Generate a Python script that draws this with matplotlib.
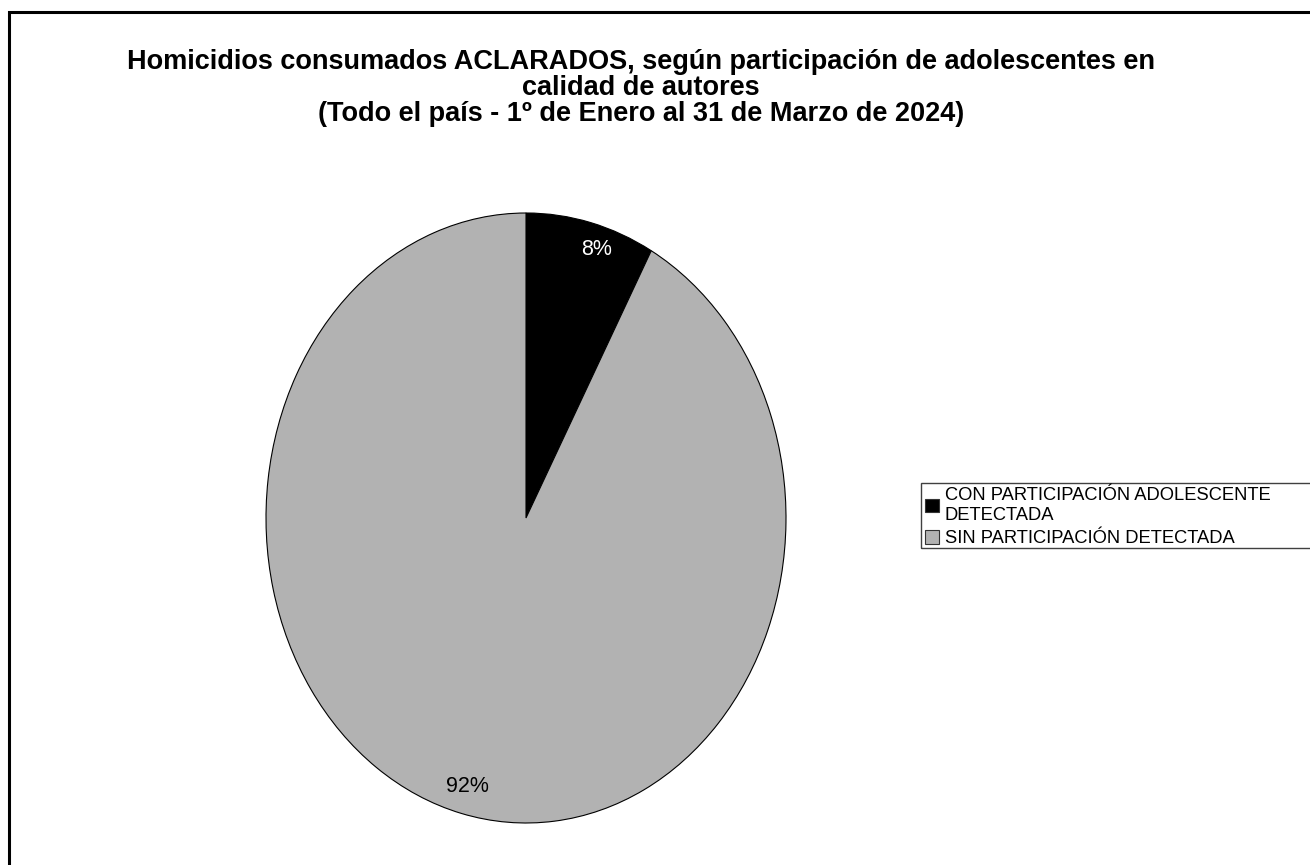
import matplotlib
matplotlib.use("Agg")
import matplotlib.pyplot as plt
from matplotlib.patches import Rectangle, Patch

plt.rcParams['font.family'] = ['Liberation Sans', 'DejaVu Sans']

labels = ['CON PARTICIPACIÓN ADOLESCENTE\nDETECTADA', 'SIN PARTICIPACIÓN DETECTADA']
values = [8, 92]
colors = ['#000000', '#b2b2b2']
pct_colors = ['white', 'black']

title = ('Homicidios consumados ACLARADOS, según participación de adolescentes en\n'
         'calidad de autores\n'
         '(Todo el país - 1º de Enero al 31 de Marzo de 2024)')

W, H = 1310, 865
fig = plt.figure(figsize=(W / 100, H / 100), dpi=100)

# outer frame (cut off at right and bottom like the original)
fig.patches.append(Rectangle((9 / W, -0.05), 1.1, 1 - 12 / H + 0.05, transform=fig.transFigure,
                             fill=False, edgecolor='black', linewidth=2.2))

fig.text(641 / W, 1 - 49 / H, title, ha='center', va='top', fontsize=19.5,
         fontweight='bold', linespacing=1.0)

# pie drawn as an ellipse: axes box matches pie bounds
ax = fig.add_axes([266 / W, 1 - 823 / H, 520 / W, 610 / H])
wedges, texts, autotexts = ax.pie(values, colors=colors, startangle=90, counterclock=False,
                                  autopct='%1.0f%%', pctdistance=0.91, radius=1,
                                  wedgeprops=dict(edgecolor='black', linewidth=0.8),
                                  textprops=dict(fontsize=15.5))
for t, c in zip(autotexts, pct_colors):
    t.set_color(c)
# the small label sits a bit further right in the original
x0, y0 = autotexts[0].get_position()
autotexts[0].set_position((x0 + 0.045, y0))
ax.set_aspect('auto')
ax.set_xlim(-1, 1)
ax.set_ylim(-1, 1)
ax.axis('off')

# legend
handles = [Patch(facecolor=c, edgecolor='#333333', linewidth=0.8) for c in colors]
leg = fig.legend(handles, labels, loc='upper left', bbox_to_anchor=(918 / W, 1 - 480 / H),
                 frameon=False, fontsize=13.2, handlelength=0.75, handleheight=0.75,
                 handletextpad=0.3, labelspacing=0.35, borderaxespad=0)
fig.patches.append(Rectangle((921 / W, 1 - 548 / H), 0.5, 65 / H, transform=fig.transFigure,
                             fill=False, edgecolor='#404040', linewidth=1.0))

fig.savefig('out.png', dpi=100, facecolor='white')
